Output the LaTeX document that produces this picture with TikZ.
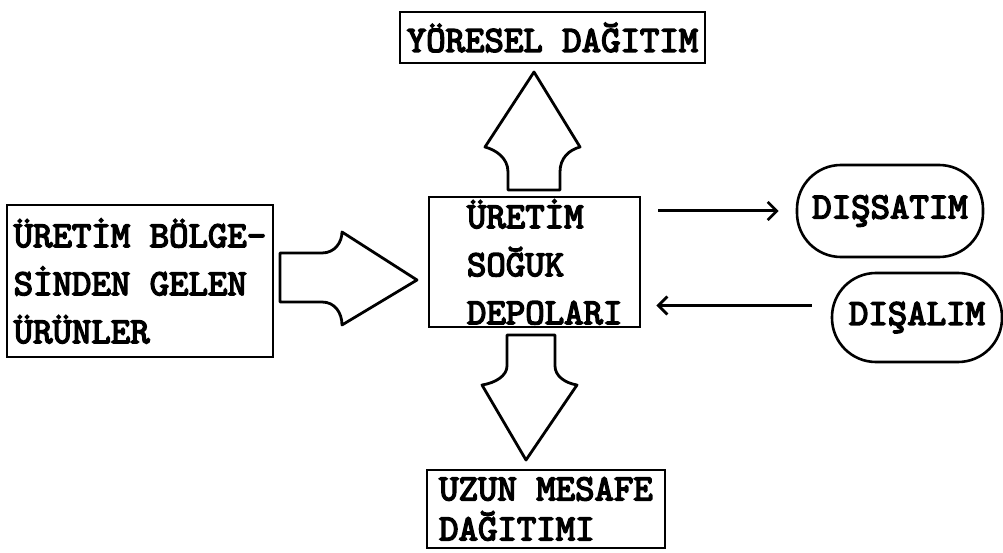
\documentclass[tikz,border=0pt]{standalone}
\usepackage{fontspec}
\newfontfamily\yazi{lmmono10-regular.otf}[FakeBold=4]
\usepackage{tikz}
\usetikzlibrary{arrows.meta,positioning,calc}

\tikzset{
	kutu/.style={draw, line width=2.6pt, font=\yazi\fontsize{37}{48}\selectfont, align=left, inner sep=0pt},
	yuvarlak/.style={kutu, rounded corners=44pt},
	blokok/.style={draw, line width=2.8pt, line join=round},
	ince/.style={-{Straight Barb[length=9pt,width=18pt,line width=2.8pt]}, line width=3pt}
}

\begin{document}
\begin{tikzpicture}[x=1pt,y=-1pt]
\useasboundingbox (0,0) rectangle (1003,553);

% boxes
\node[kutu, minimum width=305pt, minimum height=51pt] (yore) at (552.5,37.5) {Y\"ORESEL DA\u{G}ITIM};
\node[kutu, text width=135pt, minimum width=211pt, minimum height=130pt] (depo) at (534.5,262) {\"URET\.IM\\SO\u{G}UK\\DEPOLARI};
\node[kutu, minimum width=266pt, minimum height=152pt] (urun) at (140,281) {\"URET\.IM B\"OLGE-\\S\.INDEN GELEN\\\"UR\"UNLER};
\node[kutu, font=\yazi\fontsize{37}{40}\selectfont, minimum width=238pt, minimum height=78pt] (uzun) at (546,509) {UZUN MESAFE\\DA\u{G}ITIMI};
\node[yuvarlak, minimum width=186pt, minimum height=92pt] (dsat) at (890,211) {DI\c{S}SATIM};
\node[yuvarlak, minimum width=170pt, minimum height=89pt] (dal) at (917,317.5) {DI\c{S}ALIM};

% thin arrows depo <-> outside
\draw[ince, shorten <=17pt, shorten >=17pt] (depo.east |- dsat.west) -- (dsat.west);
\coordinate (g) at ([yshift=12pt]dal.west);
\draw[ince, shorten <=19pt, shorten >=15pt] (g) -- (depo.east |- g);

% block arrow urun -> depo
\draw[blokok] (280,253) -- (322,253) .. controls (335,253) and (342,242) .. (342,232)
	-- (417,280) -- (342,325) .. controls (342,313) and (335,302) .. (322,302) -- (280,302) -- cycle;

% block arrow depo -> yore
\draw[blokok] (508,190) -- (508,172) .. controls (508,158) and (496,150) .. (485,147)
	-- (534,72) -- (580,147) .. controls (569,150) and (560,158) .. (560,172) -- (560,190) -- cycle;

% block arrow depo -> uzun
\draw[blokok] (507,335) -- (507,366) .. controls (507,376) and (495,383) .. (482,385)
	-- (526,460) -- (577,385) .. controls (565,383) and (555,376) .. (555,366) -- (555,335) -- cycle;
\end{tikzpicture}
\end{document}
